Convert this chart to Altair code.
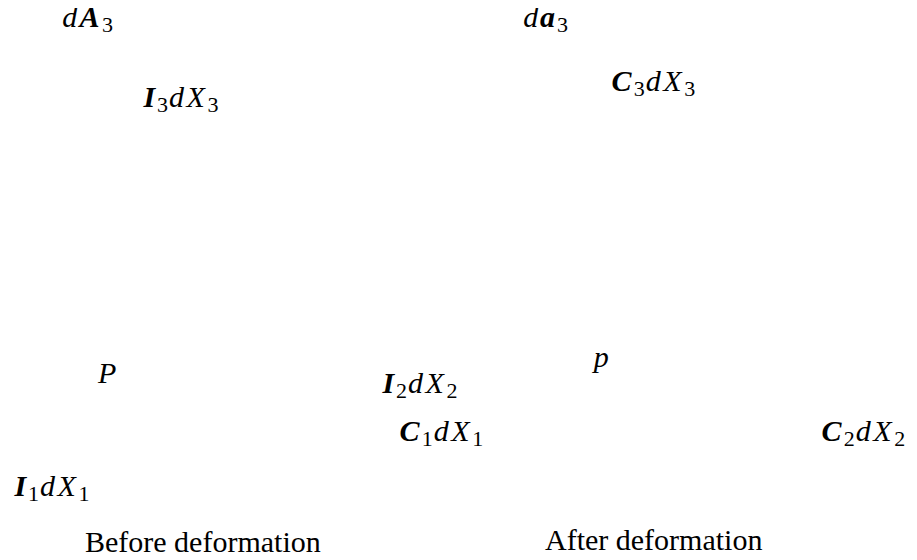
import altair as alt
import pandas as pd

# Each label: list of (text, style) pieces; styles: "i" math italic, "bi" bold math italic, "sub" subscript
label_pieces = [
    [("d", "i"), ("A", "bi"), ("3", "sub")],
    [("I", "bi"), ("3", "sub"), ("d", "i"), ("X", "i"), ("3", "sub")],
    [("d", "i"), ("a", "bi"), ("3", "sub")],
    [("C", "bi"), ("3", "sub"), ("d", "i"), ("X", "i"), ("3", "sub")],
    [("P", "i")],
    [("p", "i")],
    [("I", "bi"), ("2", "sub"), ("d", "i"), ("X", "i"), ("2", "sub")],
    [("C", "bi"), ("1", "sub"), ("d", "i"), ("X", "i"), ("1", "sub")],
    [("C", "bi"), ("2", "sub"), ("d", "i"), ("X", "i"), ("2", "sub")],
    [("I", "bi"), ("1", "sub"), ("d", "i"), ("X", "i"), ("1", "sub")],
]
label_x = [62, 142, 523, 610, 98, 594, 381, 398, 820, 13]
label_y = [27, 107, 27, 91, 383, 367, 393, 441, 441, 496]

captions = ["Before deformation", "After deformation"]
caption_x = [85, 545]
caption_y = [552, 550]

# approximate advance widths (em) of the original math fonts
adv = {"d": 0.54, "X": 0.78, "P": 0.64, "p": 0.50, "A": 0.82, "I": 0.50, "C": 0.80, "a": 0.61}
sub_adv = 0.42
em = 29

rows = []
for pieces, lx, ly in zip(label_pieces, label_x, label_y):
    cx = lx
    for txt, st in pieces:
        w = (sub_adv if st == "sub" else adv[txt]) * em
        rows.append({"t": txt, "style": st, "x": cx + w / 2, "y": ly})
        cx += w
pieces_df = pd.DataFrame(rows)
cap_df = pd.DataFrame({"t": captions, "x": caption_x, "y": caption_y})

xs = alt.Scale(domain=[8, 909])
ys = alt.Scale(domain=[552, 8])
FONT = "Liberation Serif"


def layer(df, **mk):
    return alt.Chart(df).mark_text(font=FONT, color="black", baseline="alphabetic", **mk).encode(
        x=alt.X("x:Q", scale=xs, axis=None),
        y=alt.Y("y:Q", scale=ys, axis=None),
        text="t:N",
    )


ital = layer(pieces_df, fontSize=30, fontStyle="italic", align="center").transform_filter(alt.datum.style == "i")
bold = layer(pieces_df, fontSize=30, fontStyle="italic", fontWeight="bold", align="center").transform_filter(alt.datum.style == "bi")
subs = layer(pieces_df, fontSize=22, align="center", dy=5).transform_filter(alt.datum.style == "sub")
caps = layer(cap_df, fontSize=30, align="left")

chart = alt.layer(ital, bold, subs, caps).properties(
    width=901, height=544, padding=0, autosize=alt.AutoSizeParams(type="none")
).configure_view(stroke=None)

chart.save("out.html", embed_options={"renderer": "svg", "actions": False})
